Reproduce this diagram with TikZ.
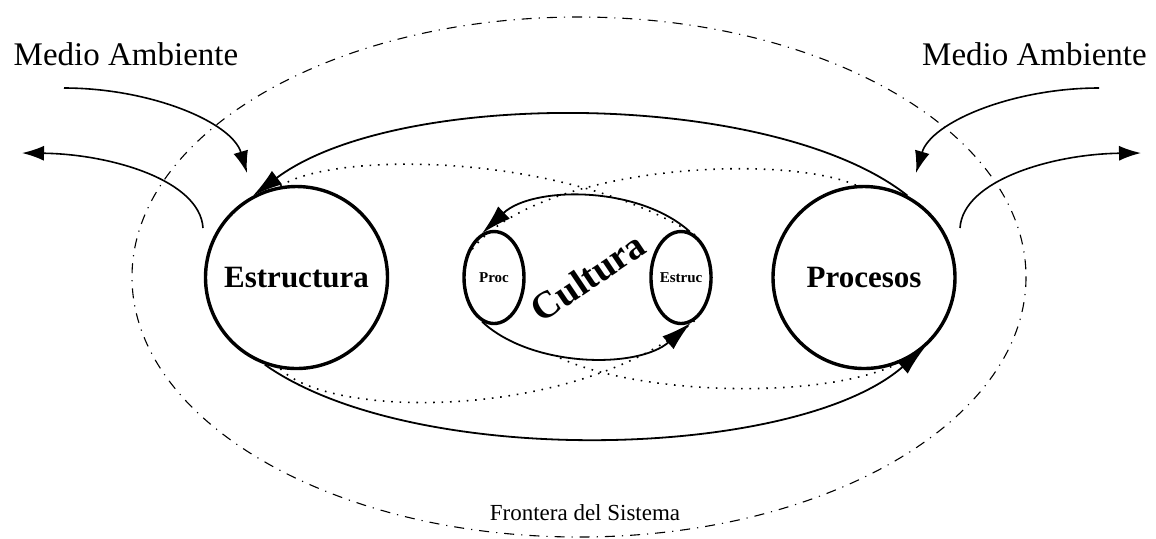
\documentclass[tikz,border=0pt]{standalone}
\usepackage{fontspec}
\setmainfont{Liberation Serif}
\usetikzlibrary{arrows.meta,shapes.geometric}
\begin{document}
\begin{tikzpicture}[x=0.5pt, y=-0.5pt,
  caja/.style={draw, line width=1.7pt, inner sep=0pt},
  sistema/.style={caja, circle, minimum size=91pt, font=\fontsize{15.5}{18}\selectfont\bfseries},
  sub/.style={caja, ellipse, minimum width=30pt, minimum height=46pt, font=\fontsize{7.5}{9}\selectfont\bfseries},
  ciclo/.style={line width=0.9pt, -{Latex[length=15pt,width=8.5pt]}},
  entorno/.style={line width=0.8pt, -{Latex[length=11pt,width=7.5pt]}},
  punteado/.style={line width=0.8pt, dash pattern=on 0.8pt off 3.4pt},
  frontera/.style={line width=0.55pt, dash pattern=on 5pt off 3.5pt on 0.6pt off 3.5pt},
  rotulo/.style={font=\fontsize{16.5}{20}\selectfont, anchor=base}]

\useasboundingbox (0,0) rectangle (1156,538);

% Frontera
\draw[frontera] (579,277) ellipse [x radius=447, y radius=260];
\node[anchor=base, font=\fontsize{11.5}{14}\selectfont] (front) at (585,520) {Frontera del Sistema};

% Medio ambiente
\node[rotulo] (ma1) at (126,65) {Medio Ambiente};
\node[rotulo] (ma2) at (1034.5,65) {Medio Ambiente};

% Subsistemas
\node[sistema] (estructura) at (296.5,277.5) {Estructura};
\node[sistema] (procesos) at (864,277.5) {Procesos};

% Cultura
\node[sub] (cproc) at (494,277.5) {Proc};
\node[sub, minimum width=29pt] (cestruc) at (681,277.5) {Estruc};
\node[rotate=34, font=\fontsize{19}{22}\selectfont\bfseries] (cultura) at (588,277) {Cultura};
\coordinate (cbajo) at (560,358);

\draw[ciclo] (cestruc.79) .. controls (638,185) and (532,186) .. (cproc.105);
\draw[ciclo] (cproc.-105) .. controls (532,368) and (638,369) .. (cestruc.-78);

% Ciclo grande
\draw[ciclo] (procesos.62) .. controls (774,90) and (398,87) .. (estructura.118);
\draw[ciclo] (estructura.-110) .. controls (414,470) and (796,460) .. (procesos.-49);

% punteadas
\draw[punteado] (estructura.100) .. controls (330,152) and (560,150) .. (cestruc.70);
\draw[punteado] (procesos.95) .. controls (780,152) and (520,165) .. (cproc.150);
\draw[punteado] (estructura.-100) .. controls (330,420) and (580,420) .. (cestruc.-70);
\draw[punteado] (cbajo) .. controls (640,395) and (820,400) .. (procesos.-70);

% Entradas / salidas
\coordinate (ent1) at (64,88);
\coordinate (ent1f) at (247,173);
\coordinate (sal1) at (203,228);
\coordinate (sal1f) at (22,153);
\coordinate (ent2) at (1099,88);
\coordinate (ent2f) at (916,173);
\coordinate (sal2) at (960,228);
\coordinate (sal2f) at (1141,153);

\draw[entorno] (ent1) .. controls (150,88) and (232,122) .. (ent1f);
\draw[entorno] (sal1) .. controls (200,180) and (110,154) .. (sal1f);
\draw[entorno] (ent2) .. controls (1013,88) and (931,122) .. (ent2f);
\draw[entorno] (sal2) .. controls (963,180) and (1053,154) .. (sal2f);

\end{tikzpicture}
\end{document}
